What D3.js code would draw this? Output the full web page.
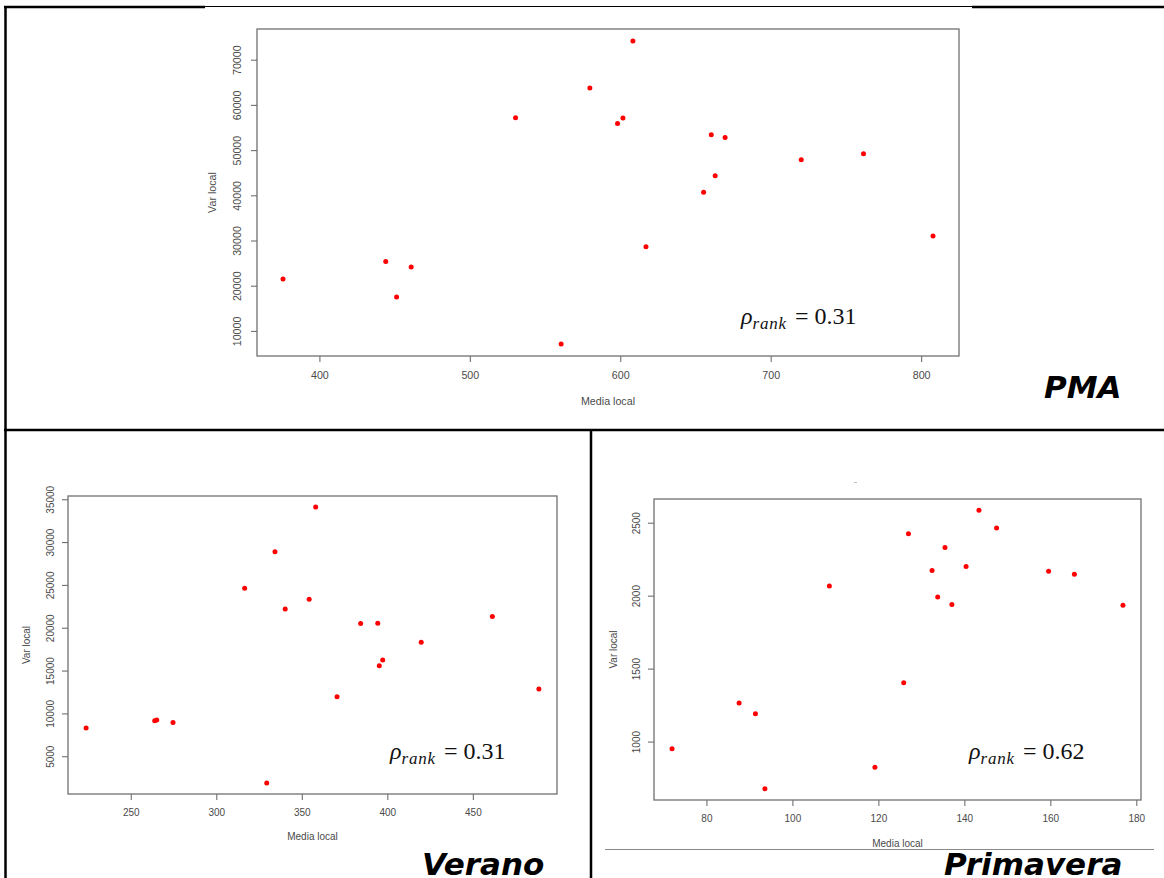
<!DOCTYPE html>
<html>
<head>
<meta charset="utf-8">
<script src="https://cdn.jsdelivr.net/npm/d3@7"></script>
<style>
  body { margin: 0; background: #fff; }
  svg { display: block; }
</style>
</head>
<body>
<svg id="chart" width="1164" height="878"></svg>
<script>
// values (Media local vs Var local)
const pmaMedia = [375.8, 444.1, 451.3, 461.0, 530.4, 560.7, 579.8, 598.2, 601.8, 608.4, 617.1, 655.4, 660.5, 663.1, 669.7, 720.3, 761.7, 807.9];
const pmaVar = [21500, 25330, 17520, 24150, 57160, 7130, 63720, 55910, 57090, 74110, 28640, 40650, 53400, 44340, 52800, 47880, 49200, 31000];

const veranoMedia = [223.9, 264.0, 265.2, 274.7, 316.6, 329.5, 334.3, 340.3, 354.3, 358.1, 370.6, 384.4, 394.4, 395.3, 397.3, 419.8, 461.4, 488.6];
const veranoVar = [8290, 9150, 9230, 8950, 24610, 1880, 28880, 22200, 23330, 34090, 11940, 20490, 20530, 15560, 16220, 18310, 21300, 12840];

const primaveraMedia = [72.0, 87.6, 91.4, 93.6, 108.6, 119.2, 125.9, 127.0, 132.5, 133.8, 135.5, 137.1, 140.4, 143.4, 147.5, 159.6, 165.6, 176.9];
const primaveraVar = [950, 1264, 1191, 676, 2067, 824, 1403, 2425, 2172, 1990, 2330, 1939, 2199, 2586, 2463, 2167, 2147, 1935];

const pmaXTicks = [400, 500, 600, 700, 800];
const pmaYTicks = [10000, 20000, 30000, 40000, 50000, 60000, 70000];
const veranoXTicks = [250, 300, 350, 400, 450];
const veranoYTicks = [5000, 10000, 15000, 20000, 25000, 30000, 35000];
const primaveraXTicks = [80, 100, 120, 140, 160, 180];
const primaveraYTicks = [1000, 1500, 2000, 2500];

const rhoValues = ['0.31', '0.31', '0.62'];
const panelNames = ['PMA', 'Verano', 'Primavera'];

const svg = d3.select('#chart');

// page frame lines (the document table borders)
const frame = svg.append('g').attr('stroke', '#000').attr('fill', 'none');
frame.append('line').attr('x1', 5.5).attr('y1', 7).attr('x2', 5.5).attr('y2', 878).attr('stroke-width', 2.5);
frame.append('line').attr('x1', 4).attr('y1', 7).attr('x2', 205).attr('y2', 7).attr('stroke-width', 2.5);
frame.append('line').attr('x1', 205).attr('y1', 6.5).attr('x2', 972).attr('y2', 6.5).attr('stroke-width', 1.2);
frame.append('line').attr('x1', 972).attr('y1', 7).attr('x2', 1164).attr('y2', 7).attr('stroke-width', 2.5);
frame.append('line').attr('x1', 4).attr('y1', 430).attr('x2', 1164).attr('y2', 430).attr('stroke-width', 2.5);
frame.append('line').attr('x1', 591).attr('y1', 430).attr('x2', 591).attr('y2', 878).attr('stroke-width', 2.5);
frame.append('line').attr('x1', 605).attr('y1', 849.5).attr('x2', 1154).attr('y2', 849.5)
  .attr('stroke', '#8a8a8a').attr('stroke-width', 1);
frame.append('line').attr('x1', 854).attr('y1', 482.5).attr('x2', 857).attr('y2', 482.5)
  .attr('stroke', '#bbb').attr('stroke-width', 1);

// R style range: data extent padded by 4% each side
function rRange(values) {
  const [lo, hi] = d3.extent(values);
  const d = (hi - lo) * 0.04;
  return [lo - d, hi + d];
}

function drawPanel(p) {
  const g = svg.append('g');
  const x = d3.scaleLinear().domain(rRange(p.media)).range([p.left, p.right]);
  const y = d3.scaleLinear().domain(rRange(p.vari)).range([p.bottom, p.top]);

  const xAxis = g.append('g')
    .attr('transform', `translate(0,${p.bottom})`)
    .call(d3.axisBottom(x).tickValues(p.xTicks).tickSize(6).tickFormat(d3.format('d')));
  xAxis.selectAll('text')
    .attr('y', p.xLabOff).attr('dy', '0.35em');

  const yAxis = g.append('g')
    .attr('transform', `translate(${p.left},0)`)
    .call(d3.axisLeft(y).tickValues(p.yTicks).tickSize(6).tickFormat(d3.format('d')));
  yAxis.selectAll('text')
    .attr('x', 0).attr('y', -p.yLabOff).attr('dy', '0.35em')
    .attr('transform', 'rotate(-90)')
    .attr('text-anchor', 'middle');

  g.selectAll('.domain').remove();
  g.selectAll('.tick line').attr('stroke', '#707070').attr('stroke-width', 1.1);
  g.selectAll('.tick text')
    .attr('fill', '#4a4a4a')
    .style('font-family', '"Liberation Sans", Arial, sans-serif')
    .style('font-size', p.font + 'px');

  g.append('rect')
    .attr('x', p.left).attr('y', p.top)
    .attr('width', p.right - p.left).attr('height', p.bottom - p.top)
    .attr('fill', 'none').attr('stroke', '#707070').attr('stroke-width', 1.3);

  g.append('text')
    .attr('x', (p.left + p.right) / 2).attr('y', p.bottom + p.xTitleOff).attr('dy', '0.35em')
    .attr('text-anchor', 'middle').attr('fill', '#4a4a4a')
    .style('font-family', '"Liberation Sans", Arial, sans-serif')
    .style('font-size', p.font + 'px')
    .text('Media local');

  g.append('text')
    .attr('transform', `translate(${p.left - p.yTitleOff},${(p.top + p.bottom) / 2}) rotate(-90)`)
    .attr('dy', '0.35em')
    .attr('text-anchor', 'middle').attr('fill', '#4a4a4a')
    .style('font-family', '"Liberation Sans", Arial, sans-serif')
    .style('font-size', p.font + 'px')
    .text('Var local');

  g.selectAll('circle.pt')
    .data(d3.zip(p.media, p.vari))
    .join('circle')
    .attr('class', 'pt')
    .attr('cx', d => x(d[0]))
    .attr('cy', d => y(d[1]))
    .attr('r', 2.5)
    .attr('fill', '#ff0000');

  // rank correlation annotation
  const rho = g.append('text')
    .attr('x', p.rhoX).attr('y', p.rhoY)
    .attr('fill', '#111')
    .style('font-family', '"Liberation Serif", "DejaVu Serif", serif')
    .style('font-size', '24px');
  rho.append('tspan').style('font-style', 'italic').text('\u03C1');
  rho.append('tspan').style('font-style', 'italic').style('font-size', '17px')
    .attr('dy', 5).attr('letter-spacing', 0.8).text('rank');
  rho.append('tspan').attr('dy', -5).attr('dx', 2).text(' = ' + p.rho);

  svg.append('text')
    .attr('x', p.nameX).attr('y', p.nameY)
    .attr('fill', '#000')
    .style('font-family', '"DejaVu Sans", sans-serif')
    .style('font-weight', 'bold')
    .style('font-style', 'oblique')
    .style('font-size', '31px')
    .text(p.name);
}

drawPanel({
  media: pmaMedia, vari: pmaVar, xTicks: pmaXTicks, yTicks: pmaYTicks,
  left: 257, right: 959, top: 29, bottom: 356, font: 10.7,
  xLabOff: 19, yLabOff: 20, xTitleOff: 45, yTitleOff: 45,
  rho: rhoValues[0], rhoX: 741, rhoY: 324,
  name: panelNames[0], nameX: 1044, nameY: 398
});

drawPanel({
  media: veranoMedia, vari: veranoVar, xTicks: veranoXTicks, yTicks: veranoYTicks,
  left: 68, right: 557, top: 496, bottom: 794, font: 10,
  xLabOff: 18, yLabOff: 18, xTitleOff: 42, yTitleOff: 42,
  rho: rhoValues[1], rhoX: 390, rhoY: 759,
  name: panelNames[1], nameX: 422, nameY: 875
});

drawPanel({
  media: primaveraMedia, vari: primaveraVar, xTicks: primaveraXTicks, yTicks: primaveraYTicks,
  left: 654, right: 1141, top: 499, bottom: 800, font: 10,
  xLabOff: 18, yLabOff: 18, xTitleOff: 43, yTitleOff: 41,
  rho: rhoValues[2], rhoX: 969, rhoY: 759,
  name: panelNames[2], nameX: 944, nameY: 875
});
</script>
</body>
</html>
